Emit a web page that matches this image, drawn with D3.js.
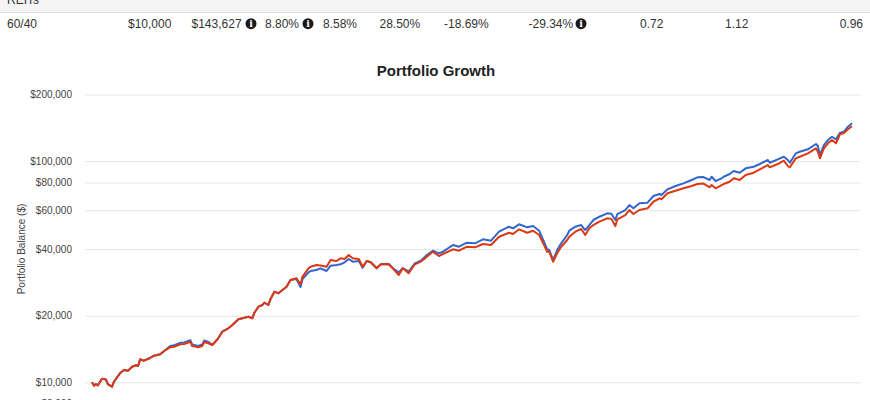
<!DOCTYPE html>
<html>
<head>
<meta charset="utf-8">
<script src="https://cdn.jsdelivr.net/npm/d3@7"></script>
<style>
body { margin: 0; background: #fff; }
svg { font-family: "Liberation Sans", Arial, Helvetica, sans-serif; }
</style>
</head>
<body>
<div id="chart"></div>
<script>
// month-end dates (Jan 1990 .. Aug 2021)
var months = ["1990-01","1990-02","1990-03","1990-04","1990-06","1990-08","1990-09","1990-11","1990-12","1991-03",
"1991-05","1991-07","1991-09","1991-11","1991-12","1992-01","1992-03","1992-06","1992-08","1992-11",
"1993-01","1993-04","1993-06","1993-09","1993-11","1994-02","1994-03","1994-06","1994-08","1994-09",
"1994-11","1995-01","1995-04","1995-06","1995-09","1995-11","1996-02","1996-04","1996-07","1996-09",
"1996-10","1996-12","1997-02","1997-03","1997-05","1997-06","1997-08","1997-10","1997-12","1998-02",
"1998-04","1998-07","1998-09","1998-10","1999-01","1999-02","1999-05","1999-07","1999-10","1999-12",
"2000-03","2000-05","2000-07","2000-09","2000-11","2001-02","2001-04","2001-06","2001-08","2001-11",
"2002-01","2002-05","2002-07","2002-10","2002-12","2003-03","2003-06","2003-09","2003-12","2004-03",
"2004-06","2004-08","2005-01","2005-04","2005-08","2005-12","2006-04","2006-08","2006-12","2007-05",
"2007-07","2007-10","2008-02","2008-05","2008-08","2008-10","2008-12","2009-01","2009-03","2009-05",
"2009-07","2009-10","2009-11","2010-02","2010-05","2010-07","2010-09","2010-11","2011-02","2011-06",
"2011-08","2011-10","2011-11","2012-03","2012-05","2012-07","2012-10","2013-02","2013-05","2013-08",
"2013-09","2013-12","2014-04","2014-08","2014-12","2015-03","2015-06","2015-09","2015-10","2015-12",
"2016-03","2016-04","2016-07","2016-09","2016-12","2017-03","2017-07","2017-10","2018-02","2018-03",
"2018-07","2018-10","2018-12","2019-01","2019-04","2019-06","2019-10","2020-02","2020-03","2020-04",
"2020-06","2020-08","2020-10","2020-12","2021-02","2021-04","2021-06","2021-08"];

// blue line (portfolio with REITs)
var withReits = [10000,9650,9825,9690,10380,10290,9790,9550,10060,10980,
11370,11280,11760,11940,11850,12700,12520,12880,13190,13380,
13850,14600,14700,15080,15140,15500,14820,14610,14810,15440,
15230,14740,15810,16930,17540,18160,19270,19470,19790,19470,
20640,21970,22360,22900,22360,23720,25680,25250,26140,27050,
29000,29300,26960,29300,31420,31850,32180,32760,31850,33660,
33900,34150,34870,36090,35090,35340,32960,35340,34870,32760,
34150,34260,32860,31420,32860,31620,34510,35450,37620,39340,
38290,38940,41750,41010,42760,42490,44300,43660,47950,50510,
49670,51790,50190,50880,48450,43980,39920,39630,35710,39630,
42490,46330,48450,50510,51410,48800,51410,54160,56050,58060,
57800,54160,57640,60090,63300,61170,64430,64840,69520,70980,
70250,74540,77150,79340,82120,84450,84700,82120,84980,81260,
83580,84980,87400,90170,88590,92740,94310,97000,101120,98320,
101860,104650,101120,98320,108420,110250,113040,119450,116980,106520,
118200,124520,128870,125430,134500,135770,143020,148170];

// red line (60/40)
var sixtyForty = [10000,9650,9825,9690,10380,10290,9790,9550,10060,10980,
11370,11280,11760,11940,11850,12700,12520,12880,13190,13380,
13850,14390,14480,14850,14900,15260,14590,14390,14590,15210,
15010,14740,15810,16930,17540,18160,19270,19470,19790,19470,
20640,21970,22360,22900,22360,23720,25680,25250,26140,27050,
29000,29520,27730,30020,32760,33310,33900,33700,33310,35710,
35340,36350,36090,37620,36350,36090,33310,35340,34870,32760,
34150,34150,32760,30550,32760,31100,34150,35090,36960,38940,
37230,38010,39920,39340,41010,40760,42180,41750,45520,47450,
46810,49160,47450,48450,46330,42490,38940,38940,35090,38290,
41010,43980,45520,47950,49310,46330,49670,51410,53210,55120,
54800,50880,54550,57050,60090,57640,60090,61170,65510,67880,
67170,71500,73460,75320,77150,78760,79100,76110,77950,75320,
77950,78760,80670,83580,82120,86500,88590,91790,96000,93720,
97000,100380,95000,93720,102920,104650,108420,114220,110250,102920,
114220,120310,124520,120310,132550,133900,139200,143627];

var yTicks = [8000, 10000, 20000, 40000, 60000, 80000, 100000, 200000];

var tableRow = ["60/40", "$10,000", "$143,627", "8.80%", "8.58%", "28.50%", "-18.69%", "-29.34%", "0.72", "1.12", "0.96"];
var tableRowAbove = ["REITs"];

// layout
var w = 870, h = 400;
var plot = {left: 85, right: 860, x0: 92, x1: 852};
var colX = [7, 128, 191.5, 265, 323, 379.5, 444, 528.5, 640, 725, 863];
var infoX = [251, 308, 581];

var parse = d3.timeParse("%Y-%m");
var dates = months.map(parse);

var svg = d3.select("#chart")
    .append("svg")
    .attr("width", w)
    .attr("height", h);

// --- table fragment at the top ---
svg.append("rect")
    .attr("x", 0).attr("y", 0)
    .attr("width", w).attr("height", 12.5)
    .attr("fill", "#f5f5f5");
svg.append("line")
    .attr("x1", 0).attr("x2", w)
    .attr("y1", 12.5).attr("y2", 12.5)
    .attr("stroke", "#dddddd");
svg.append("text")
    .attr("x", colX[0]).attr("y", 3.5)
    .attr("font-size", 12).attr("fill", "#333")
    .text(tableRowAbove[0]);

svg.selectAll(".cell")
    .data(tableRow)
    .enter()
    .append("text")
    .attr("class", "cell")
    .attr("x", function(d, i) { return colX[i]; })
    .attr("y", 28.3)
    .attr("text-anchor", function(d, i) { return i == tableRow.length - 1 ? "end" : "start"; })
    .attr("font-size", 12)
    .attr("fill", "#333")
    .text(function(d) { return d; });

var info = svg.selectAll(".info")
    .data(infoX)
    .enter()
    .append("g")
    .attr("class", "info")
    .attr("transform", function(d) { return "translate(" + d + ",23.7)"; });
info.append("circle").attr("r", 5.5).attr("fill", "#1a1a1a");
info.append("text")
    .attr("y", 3.6)
    .attr("text-anchor", "middle")
    .attr("font-size", 9.5)
    .attr("font-weight", "bold")
    .attr("font-family", "DejaVu Serif, serif")
    .attr("fill", "#fff")
    .text("i");

// --- chart ---
var xScale = d3.scaleTime()
    .domain(d3.extent(dates))
    .range([plot.x0, plot.x1]);

var yScale = d3.scaleLog()
    .domain([10000, 200000])
    .range([382.3, 94.5]);

var yAxis = svg.append("g")
    .attr("class", "y axis")
    .attr("transform", "translate(" + plot.left + ",0)")
    .call(d3.axisLeft(yScale)
        .tickValues(yTicks)
        .tickSize(-(plot.right - plot.left))
        .tickPadding(13)
        .tickFormat(function(d) { return "$" + d3.format(",")(d); }));
yAxis.select(".domain").remove();
yAxis.selectAll(".tick line").attr("stroke", "#e6e6e6");
yAxis.selectAll(".tick text")
    .attr("font-size", 10)
    .attr("fill", "#444")
    .attr("font-family", "Liberation Sans, Arial, sans-serif");

svg.append("text")
    .attr("x", 436).attr("y", 76)
    .attr("text-anchor", "middle")
    .attr("font-size", 15)
    .attr("font-weight", "bold")
    .attr("fill", "#222")
    .text("Portfolio Growth");

svg.append("text")
    .attr("transform", "translate(25,249) rotate(-90)")
    .attr("text-anchor", "middle")
    .attr("font-size", 10)
    .attr("fill", "#444")
    .text("Portfolio Balance ($)");

var line = d3.line()
    .x(function(d, i) { return xScale(dates[i]); })
    .y(function(d) { return yScale(d); });

var series = [
    {values: withReits, color: "#3366cc"},
    {values: sixtyForty, color: "#dc3912"}
];

svg.selectAll(".series")
    .data(series)
    .enter()
    .append("path")
    .attr("class", "series")
    .attr("d", function(d) { return line(d.values); })
    .attr("fill", "none")
    .attr("stroke", function(d) { return d.color; })
    .attr("stroke-width", 2)
    .attr("stroke-linejoin", "round");
</script>
</body>
</html>
